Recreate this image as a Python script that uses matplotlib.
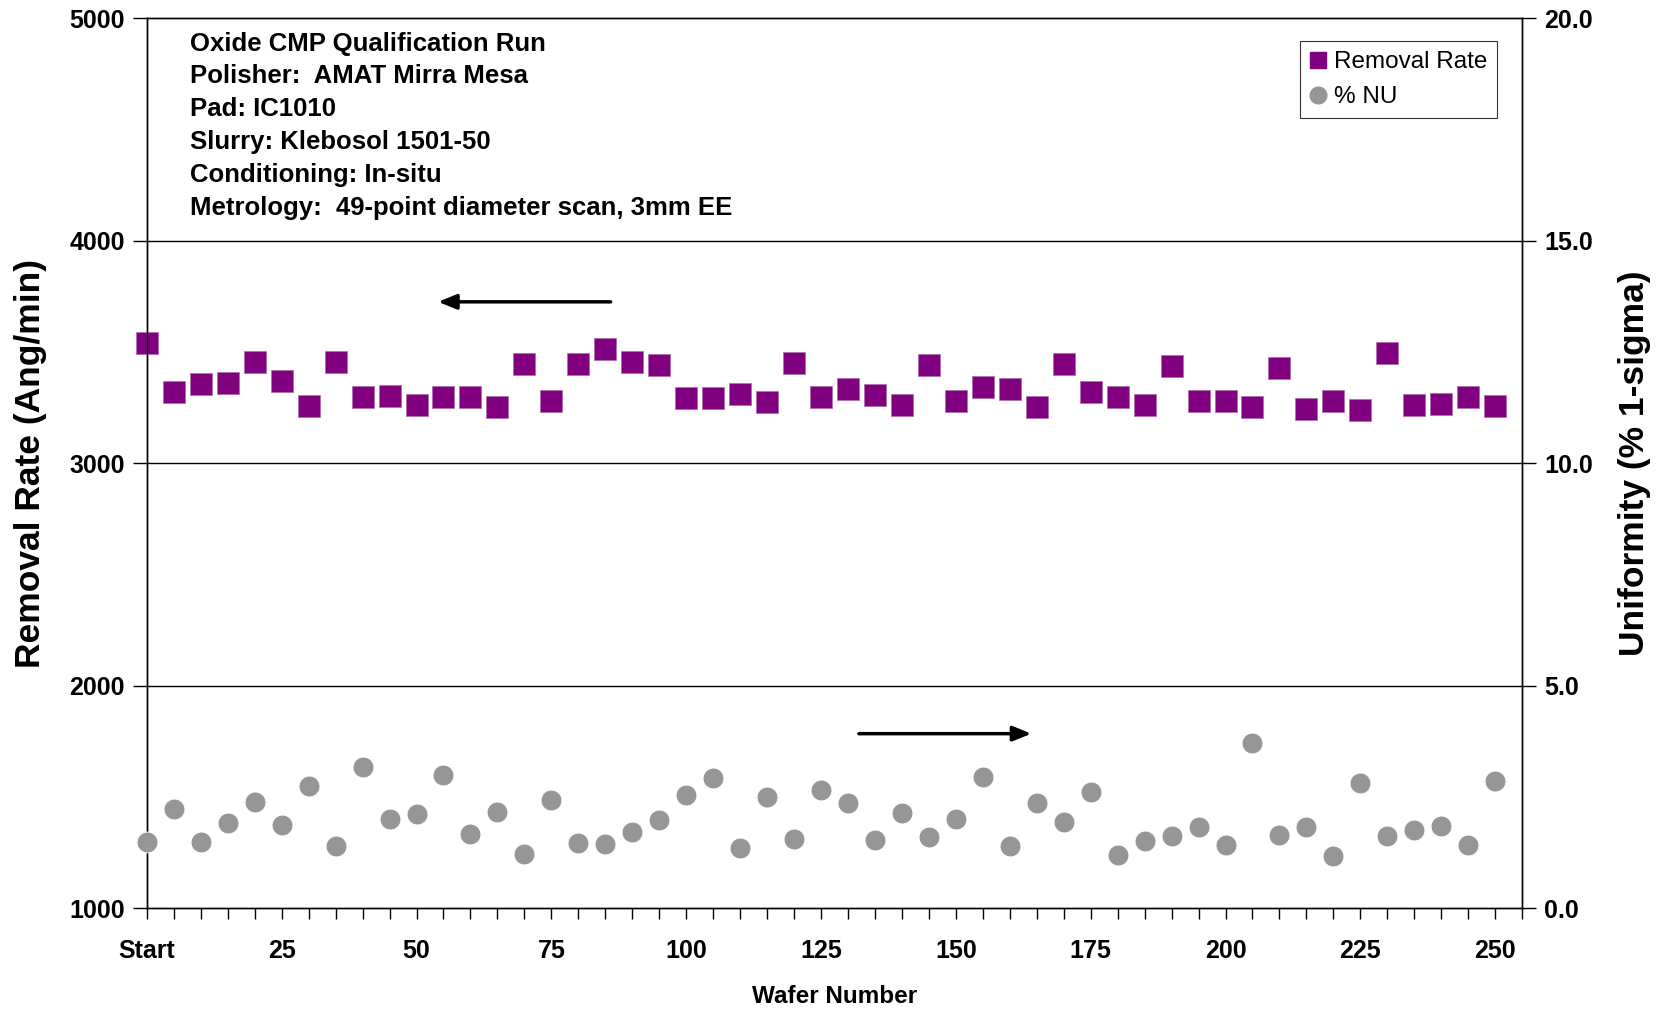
import matplotlib.pyplot as plt
from matplotlib.lines import Line2D

plt.rcParams['font.family'] = ['Liberation Sans', 'DejaVu Sans']

# Wafer numbers (every 5th wafer)
wafers = list(range(0, 251, 5))

# Removal rate (Ang/min), left axis
removal_rate = [3541, 3320, 3354, 3359, 3455, 3368, 3258, 3455, 3297, 3301,
                3263, 3297, 3297, 3254, 3445, 3278, 3445, 3512, 3455, 3440,
                3292, 3292, 3311, 3273, 3450, 3297, 3335, 3306, 3263, 3440,
                3278, 3340, 3335, 3254, 3445, 3320, 3297, 3263, 3435, 3278,
                3278, 3254, 3426, 3244, 3278, 3239, 3493, 3263, 3268, 3297,
                3258]

# Non-uniformity (% 1-sigma), right axis
pct_nu = [1.48, 2.22, 1.48, 1.91, 2.39, 1.87, 2.75, 1.39, 3.16, 2.01,
          2.11, 2.99, 1.67, 2.15, 1.22, 2.42, 1.46, 1.44, 1.72, 1.99,
          2.54, 2.92, 1.34, 2.49, 1.56, 2.66, 2.37, 1.53, 2.13, 1.60,
          2.01, 2.94, 1.39, 2.37, 1.94, 2.61, 1.20, 1.51, 1.63, 1.82,
          1.41, 3.71, 1.65, 1.82, 1.17, 2.82, 1.63, 1.75, 1.84, 1.41,
          2.85]

x_tick_labels = ['Start', '25', '50', '75', '100', '125', '150', '175', '200', '225', '250']

info_lines = [
    'Oxide CMP Qualification Run',
    'Polisher:  AMAT Mirra Mesa',
    'Pad: IC1010',
    'Slurry: Klebosol 1501-50',
    'Conditioning: In-situ',
    'Metrology:  49-point diameter scan, 3mm EE',
]

PURPLE = '#800080'
GREY = '#969696'

fig = plt.figure(figsize=(16.69, 10.09), dpi=100)
ax = fig.add_axes([0.088, 0.100, 0.824, 0.882])
ax2 = ax.twinx()

ax.set_xlim(0, 255)
ax.set_ylim(1000, 5000)
ax2.set_ylim(0, 20)

# grid lines
for y in [2000, 3000, 4000]:
    ax.axhline(y, color='black', lw=1.0, zorder=0)

ax.plot(wafers, removal_rate, ls='none', marker='s', ms=15.5, color=PURPLE,
        mec='#b070b0', mew=0.6, clip_on=False, zorder=3)
ax2.plot(wafers, pct_nu, ls='none', marker='o', ms=15, color=GREY,
         mec='white', mew=0.6, clip_on=False, zorder=3)

# ticks: one every 5 wafers, labels every 25
xt = list(range(0, 256, 5))
ax.set_xticks(xt)
ax.set_xticklabels([x_tick_labels[i // 5] if i % 5 == 0 and i // 5 < len(x_tick_labels) else ''
                    for i in range(len(xt))])
ax.set_yticks([1000, 2000, 3000, 4000, 5000])
ax.set_yticklabels(['1000', '2000', '3000', '4000', '5000'])
ax2.set_yticks([0, 5, 10, 15, 20])
ax2.set_yticklabels(['0.0', '5.0', '10.0', '15.0', '20.0'])

ax.tick_params(axis='x', direction='out', length=8, width=1, pad=14,
               labelsize=18)
ax.tick_params(axis='y', direction='out', length=10, width=1, pad=6,
               labelsize=18)
ax2.tick_params(axis='y', direction='out', length=10, width=1, pad=6,
                labelsize=18)
for lab in ax.get_xticklabels() + ax.get_yticklabels() + ax2.get_yticklabels():
    lab.set_fontweight('bold')

for a in (ax, ax2):
    for s in a.spines.values():
        s.set_linewidth(1.0)

ax.set_xlabel('Wafer Number', fontsize=17.5, fontweight='bold', labelpad=16)
ax.set_ylabel('Removal Rate (Ang/min)', fontsize=25.5, fontweight='bold', labelpad=16)
ax2.set_ylabel('Uniformity (% 1-sigma)', fontsize=25.5, fontweight='bold',
               rotation=90, labelpad=18)

# process info block
ax.text(0.031, 0.985, '\n'.join(info_lines), transform=ax.transAxes,
        ha='left', va='top', fontsize=18.5, fontweight='bold', linespacing=1.47)

# axis direction arrows
ax.annotate('', xy=(53.5, 3725), xytext=(86.5, 3725),
            arrowprops=dict(arrowstyle='-|>,head_length=1.1,head_width=0.45',
                            color='black', lw=2.5))
ax2.annotate('', xy=(164.5, 3.92), xytext=(131.5, 3.92),
             arrowprops=dict(arrowstyle='-|>,head_length=1.1,head_width=0.45',
                             color='black', lw=2.5))

handles = [
    Line2D([], [], ls='none', marker='s', ms=12, color=PURPLE),
    Line2D([], [], ls='none', marker='o', ms=12, color=GREY),
]
leg = ax2.legend(handles, ['Removal Rate', '% NU'], loc='upper right',
                 bbox_to_anchor=(0.982, 0.974), fontsize=17.5, frameon=True,
                 fancybox=False, edgecolor='black', handlelength=0.7,
                 handletextpad=0.3, borderpad=0.4, labelspacing=0.55,
                 borderaxespad=0)
leg.get_frame().set_linewidth(0.8)

fig.savefig('out.png', dpi=100)
